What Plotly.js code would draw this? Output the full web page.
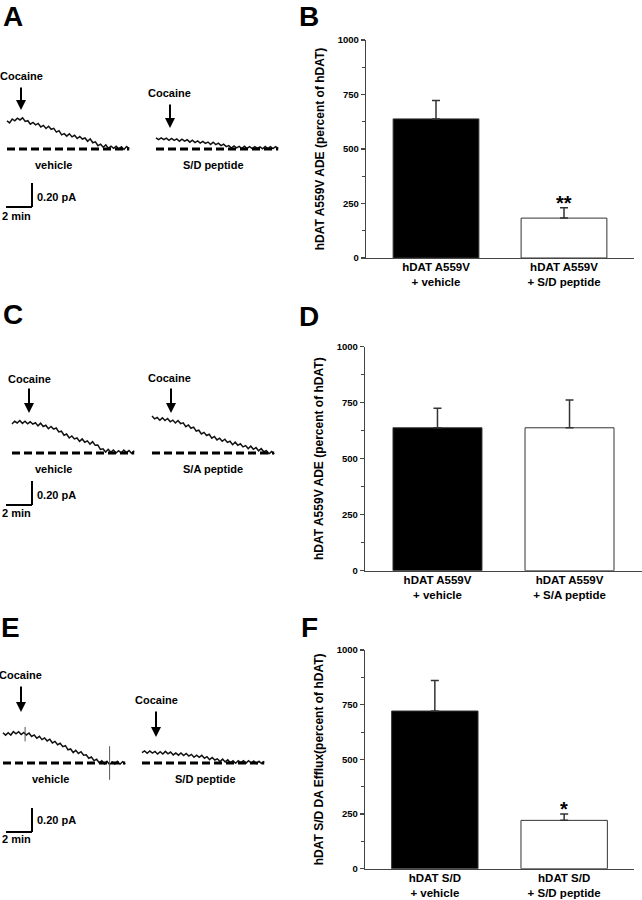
<!DOCTYPE html>
<html>
<head>
<meta charset="utf-8">
<script src="https://cdn.plot.ly/plotly-3.0.1.min.js"></script>
<style>html,body{margin:0;padding:0;background:#fff;}#chart{width:642px;height:900px;}</style>
</head>
<body>
<div id="chart"></div>
<script>
// ---------- DATA ----------
// Bar charts (percent of hDAT), mean and SEM
const categoriesB = ['hDAT A559V<br>+ vehicle', 'hDAT A559V<br>+ S/D peptide'];
const meanB = [638, 183];
const semB = [84, 48];
const categoriesD = ['hDAT A559V<br>+ vehicle', 'hDAT A559V<br>+ S/A peptide'];
const meanD = [638, 638];
const semD = [87, 124];
const categoriesF = ['hDAT S/D<br>+ vehicle', 'hDAT S/D<br>+ S/D peptide'];
const meanF = [721, 221];
const semF = [139, 29];
const yTickVals = [0, 250, 500, 750, 1000];
const yMinorVals = [125, 375, 625, 875];
const sigB = ['', '**'];
const sigF = ['', '*'];

// Amperometric traces: time (min) from trace start, current (pA) above baseline
const traceTime = [0,0.2,0.4,0.6,0.8,1,1.2,1.4,1.6,1.8,2,2.2,2.4,2.6,2.8,3,3.2,3.4,3.6,3.8,4,4.2,4.4,4.6,4.8,5,5.2,5.4,5.6,5.8,6,6.2,6.4,6.6,6.8,7,7.2,7.4,7.6,7.8,8,8.2,8.4,8.6,8.8,9,9.2,9.4];
const currA_vehicle = [0.235,0.218,0.25,0.235,0.257,0.242,0.259,0.23,0.236,0.207,0.221,0.201,0.213,0.184,0.197,0.171,0.19,0.164,0.172,0.141,0.153,0.118,0.128,0.107,0.127,0.101,0.114,0.087,0.104,0.083,0.092,0.064,0.085,0.052,0.06,0.027,0.04,0.015,0.034,0.005,0.024,0.006,0.023,-0.001,0.018,-0.004,0.02,0.003];
const currA_SD = [0.093,0.078,0.093,0.078,0.09,0.073,0.089,0.072,0.084,0.065,0.082,0.066,0.077,0.057,0.074,0.054,0.067,0.049,0.064,0.047,0.058,0.038,0.056,0.037,0.049,0.028,0.04,0.02,0.028,0.008,0.025,0.01,0.022,0.004,0.023,0.005,0.02,0.003,0.02,0.005,0.018,0.001,0.021,0.004,0.019,0.003,0.02,0.006];
const currC_vehicle = [0.242,0.264,0.25,0.271,0.247,0.265,0.243,0.26,0.241,0.252,0.226,0.248,0.221,0.231,0.202,0.221,0.199,0.208,0.176,0.182,0.148,0.158,0.125,0.142,0.117,0.125,0.097,0.117,0.09,0.101,0.074,0.094,0.064,0.067,0.03,0.035,0.008,0.031,0.006,0.024,0.0,0.019,0.0,0.024,0.003,0.02,-0.003,0.019];
const currC_SA = [0.308,0.285,0.296,0.273,0.293,0.271,0.288,0.26,0.274,0.25,0.271,0.245,0.251,0.219,0.234,0.206,0.216,0.183,0.19,0.159,0.172,0.146,0.156,0.124,0.138,0.109,0.123,0.098,0.115,0.088,0.098,0.069,0.09,0.064,0.077,0.051,0.062,0.037,0.057,0.031,0.045,0.018,0.036,0.01,0.019,-0.006,0.012,-0.008];
const currE_vehicle = [0.252,0.232,0.252,0.233,0.262,0.244,0.261,0.237,0.255,0.234,0.25,0.221,0.234,0.206,0.222,0.195,0.209,0.184,0.198,0.167,0.18,0.152,0.164,0.136,0.144,0.11,0.117,0.087,0.106,0.08,0.094,0.065,0.069,0.04,0.05,0.02,0.031,0.002,0.018,-0.007,0.013,-0.012,0.009,-0.008,0.013,-0.01,0.011,-0.009];
const currE_SD = [0.086,0.101,0.081,0.101,0.083,0.096,0.075,0.094,0.075,0.097,0.076,0.091,0.067,0.083,0.065,0.083,0.062,0.079,0.058,0.072,0.048,0.065,0.047,0.064,0.04,0.053,0.028,0.046,0.025,0.035,0.013,0.032,0.009,0.026,0.002,0.019,-0.002,0.019,0.003,0.019,-0.001,0.019,0,0.016,-0.005,0.014,-0.005,0.014];
const spikeE_time = [1.7, 1.7, null, 8.2, 8.2];
const spikeE_curr = [0.3, 0.18, null, 0.14, -0.14];
const scaleBarMin = 2;     // 2 min
const scaleBarPA = 0.2;    // 0.20 pA
const scaleLabelX = '2 min';
const scaleLabelY = '0.20 pA';

// ---------- LAYOUT HELPERS ----------
const W = 642, H = 900;
const PX_PER_MIN = 13, PX_PER_PA = 120;
const tx = px => px / PX_PER_MIN;          // pixel -> minutes on trace axis
const ty = py => (H - py) / PX_PER_PA;      // pixel -> pA on trace axis
const PX = px => px / W, PY = py => 1 - py / H;
const FONT = 'Liberation Sans, Arial, Helvetica, sans-serif';

const data = [];
const shapes = [];
const annotations = [];

const rows = [
  {v: currA_vehicle, sx: 7,   by: 149, ax: 21,  tip: 110, len: 24, cy: 76,  cx: 22,  lab: 'vehicle',     lx: 53},
  {v: currA_SD,      sx: 156, by: 149, ax: 170, tip: 128, len: 25, cy: 93,  cx: 170, lab: 'S/D peptide', lx: 213},
  {v: currC_vehicle, sx: 12,  by: 453, ax: 29,  tip: 413, len: 26, cy: 379, cx: 29,  lab: 'vehicle',     lx: 53},
  {v: currC_SA,      sx: 152, by: 453, ax: 171, tip: 413, len: 26, cy: 378, cx: 170, lab: 'S/A peptide', lx: 213},
  {v: currE_vehicle, sx: 3,   by: 763, ax: 21,  tip: 712, len: 27, cy: 675, cx: 20,  lab: 'vehicle',     lx: 50},
  {v: currE_SD,      sx: 142, by: 763, ax: 156, tip: 737, len: 27, cy: 700, cx: 156, lab: 'S/D peptide', lx: 205}
];
rows.forEach(r => {
  const x0 = tx(r.sx), y0 = ty(r.by);
  const tEnd = traceTime[traceTime.length - 1];
  shapes.push({type: 'line', xref: 'x4', yref: 'y4', x0: x0, x1: x0 + tEnd, y0: y0, y1: y0,
    line: {color: '#000', width: 3, dash: '8px,4px'}});
  data.push({type: 'scatter', mode: 'lines', xaxis: 'x4', yaxis: 'y4',
    x: traceTime.map(t => x0 + t), y: r.v.map(v => y0 + v),
    line: {color: '#111', width: 1.5}, hoverinfo: 'skip', showlegend: false});
  annotations.push({xref: 'paper', yref: 'paper', x: PX(r.ax), y: PY(r.tip), text: '',
    showarrow: true, ax: 0, ay: -r.len, arrowhead: 2, arrowsize: 1, arrowwidth: 2, arrowcolor: '#000'});
  annotations.push({xref: 'paper', yref: 'paper', x: PX(r.cx), y: PY(r.cy), text: 'Cocaine',
    showarrow: false, xanchor: 'center', yanchor: 'middle', font: {size: 11, color: '#000', weight: 'bold'}});
  annotations.push({xref: 'paper', yref: 'paper', x: PX(r.lx), y: PY(r.by + 16), text: r.lab,
    showarrow: false, xanchor: 'center', yanchor: 'middle', font: {size: 11, color: '#000', weight: 'bold'}});
});
data.push({type: 'scatter', mode: 'lines', xaxis: 'x4', yaxis: 'y4',
  x: spikeE_time.map(t => t === null ? null : tx(3) + t), y: spikeE_curr.map(v => v === null ? null : ty(763) + v),
  line: {color: '#555', width: 1}, hoverinfo: 'skip', showlegend: false, connectgaps: false});

// scale bars
[{cy: 207, ly: 197, my: 216}, {cy: 505, ly: 495, my: 513}, {cy: 832, ly: 820, my: 839}].forEach(s => {
  const cx = tx(32), cyv = ty(s.cy);
  shapes.push({type: 'line', xref: 'x4', yref: 'y4', x0: cx - scaleBarMin, x1: cx, y0: cyv, y1: cyv, line: {color: '#000', width: 2}});
  shapes.push({type: 'line', xref: 'x4', yref: 'y4', x0: cx, x1: cx, y0: cyv, y1: cyv + scaleBarPA, line: {color: '#000', width: 2}});
  annotations.push({xref: 'paper', yref: 'paper', x: PX(35), y: PY(s.ly), text: scaleLabelY, showarrow: false,
    xanchor: 'left', yanchor: 'middle', font: {size: 11, color: '#000', weight: 'bold'}});
  annotations.push({xref: 'paper', yref: 'paper', x: PX(0), y: PY(s.my), text: scaleLabelX, showarrow: false,
    xanchor: 'left', yanchor: 'middle', font: {size: 11, color: '#000', weight: 'bold'}});
});

// panel letters: [letter, centre x px, y px, anchor]
[['A', 13, 0, 'top'], ['B', 309, 0, 'top'], ['C', 13, 314, 'middle'], ['D', 309, 316, 'middle'],
 ['E', 11, 627, 'middle'], ['F', 309, 627, 'middle']].forEach(p => {
  annotations.push({xref: 'paper', yref: 'paper', x: PX(p[1]), y: PY(p[2]), text: p[0], showarrow: false,
    xanchor: 'center', yanchor: p[3], borderpad: 0, font: {size: 28, color: '#000', weight: 'bold'}});
});

// bar charts
function addBars(cats, mean, sem, xa, ya, width) {
  data.push({type: 'bar', x: cats, y: mean, xaxis: xa, yaxis: ya, width: width,
    marker: {color: ['#000', '#fff'], line: {color: '#333', width: 1}},
    error_y: {type: 'data', symmetric: false, array: sem, arrayminus: [0, 0], color: '#333', thickness: 1.5, width: 4},
    hoverinfo: 'skip', showlegend: false});
}
addBars(categoriesB, meanB, semB, 'x', 'y', 0.67);
addBars(categoriesD, meanD, semD, 'x2', 'y2', 0.674);
addBars(categoriesF, meanF, semF, 'x3', 'y3', 0.668);

function sigAnn(cats, mean, sem, sig, xa, ya) {
  sig.forEach((s, i) => {
    if (!s) return;
    annotations.push({xref: xa, yref: ya, x: cats[i], y: mean[i] + sem[i], text: s, showarrow: false,
      xanchor: 'center', yanchor: 'bottom', yshift: -8, font: {size: 20, color: '#000', weight: 'bold'}});
  });
}
sigAnn(categoriesB, meanB, semB, sigB, 'x', 'y');
sigAnn(categoriesF, meanF, semF, sigF, 'x3', 'y3');

function yAx(domain, title) {
  return {domain: domain, range: [0, 1000], showline: true, linecolor: '#444', linewidth: 1.2,
    ticks: 'outside', ticklen: 4, tickcolor: '#444', tickwidth: 1.2, tickvals: yTickVals,
    minor: {tickvals: yMinorVals, ticks: 'outside', ticklen: 3, tickcolor: '#444', tickwidth: 1, showgrid: false},
    showgrid: false, zeroline: false, fixedrange: true,
    tickfont: {size: 9.5, color: '#000', weight: 'bold'},
    title: {text: title, font: {size: 12, color: '#000', weight: 'bold'}, standoff: 10}};
}
function xAx(domain, range, anchor) {
  return {domain: domain, range: range, anchor: anchor, showline: true, linecolor: '#444', linewidth: 1.2,
    ticks: '', showgrid: false, zeroline: false, fixedrange: true, ticklabelstandoff: -2,
    tickfont: {size: 11.5, color: '#000', weight: 'bold'}};
}

const layout = {
  width: W, height: H, margin: {l: 0, r: 0, t: 0, b: 0},
  paper_bgcolor: '#fff', plot_bgcolor: 'rgba(0,0,0,0)',
  font: {family: FONT, color: '#000'},
  showlegend: false,
  xaxis: xAx([366 / W, 634 / W], [-0.547, 1.547], 'y'),
  yaxis: Object.assign(yAx([1 - 258 / H, 1 - 40 / H], 'hDAT A559V ADE (percent of hDAT)'), {anchor: 'x'}),
  xaxis2: xAx([365 / W, 1], [-0.549, 1.549], 'y2'),
  yaxis2: Object.assign(yAx([1 - 570.7 / H, 1 - 346.7 / H], 'hDAT A559V ADE (percent of hDAT)'), {anchor: 'x2'}),
  xaxis3: xAx([365 / W, 634 / W], [-0.54, 1.54], 'y3'),
  yaxis3: Object.assign(yAx([1 - 868.7 / H, 1 - 650 / H], 'hDAT S/D DA Efflux(percent of hDAT)'), {anchor: 'x3'}),
  xaxis4: {domain: [0, 300 / W], range: [0, 300 / PX_PER_MIN], visible: false, fixedrange: true, anchor: 'y4'},
  yaxis4: {domain: [0, 1], range: [0, H / PX_PER_PA], visible: false, fixedrange: true, anchor: 'x4'},
  shapes: shapes,
  annotations: annotations
};

Plotly.newPlot('chart', data, layout, {displayModeBar: false, staticPlot: true});
</script>
</body>
</html>
